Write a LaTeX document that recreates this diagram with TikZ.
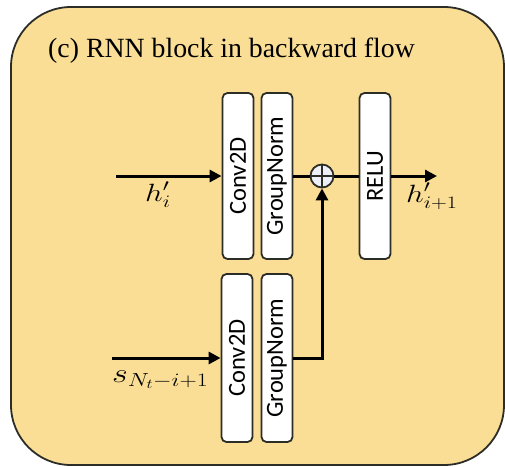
\RequirePackage{fix-cm}
\documentclass[tikz,border=0pt]{standalone}
\usepackage{fontspec}
\setmainfont{Liberation Serif}
\newfontfamily\boxfont{Carlito}
\usetikzlibrary{arrows.meta}
\definecolor{bgyellow}{RGB}{250,222,150}
\definecolor{edgegray}{RGB}{45,45,40}
\definecolor{sumfill}{RGB}{238,240,248}
\begin{document}
\begin{tikzpicture}[x=1pt,y=-1pt,
  blockbox/.style={draw=edgegray, line width=1.8pt, fill=white, rounded corners=5pt,
    rotate=90, minimum height=31pt, inner sep=0pt,
    font=\boxfont\fontsize{24.5}{26}\selectfont},
  flowline/.style={line width=3pt, draw=black},
  flowarrow/.style={flowline, -{Triangle[length=12pt,width=12pt]}},
  mathlabel/.style={anchor=base west, inner sep=0pt, font=\fontsize{25}{28}\selectfont},
]
\useasboundingbox (0,0) rectangle (505,466);
\begin{scope}
  \clip (0,0) rectangle (505,466);
  \draw[fill=bgyellow, draw=edgegray, line width=1.8pt, rounded corners=60pt] (11,7) rectangle (504,465);
\end{scope}
\node[anchor=base west, inner sep=0pt, font=\fontsize{27.8}{30}\selectfont] (title) at (48,57) {(c) RNN block in backward flow};

\node[blockbox, minimum width=166pt] (conva) at (238,176) {Conv2D};
\node[blockbox, minimum width=166pt] (gna) at (277,176) {GroupNorm};
\node[blockbox, minimum width=166pt] (relu) at (375,176) {RELU};
\node[blockbox, minimum width=168pt] (convb) at (237,358) {Conv2D};
\node[blockbox, minimum width=168pt] (gnb) at (277,358) {GroupNorm};

\node[circle, draw=edgegray, line width=1.8pt, fill=sumfill, minimum size=23pt, inner sep=0pt] (sum) at (322,176) {};
\draw[edgegray, line width=1.1pt] (sum.north) -- (sum.south) (sum.west) -- (sum.east);

\coordinate (hin) at (116,176);
\coordinate (hout) at (437,176);
\coordinate (sin) at (112,358);

\draw[flowarrow] (hin) -- (conva);
\draw[flowline] (gna) -- (sum);
\draw[flowline] (sum) -- (relu);
\draw[flowarrow] (relu) -- (hout);
\draw[flowarrow] (sin) -- (convb);
\draw[flowarrow] (gnb) -| (sum);

\node[mathlabel] (hlab) at (145,201) {\scalebox{1.25}[1]{$h'_i$}};
\node[mathlabel] (houtlab) at (406,202) {\scalebox{1.25}[1]{$h'_{i+1}$}};
\node[mathlabel, font=\fontsize{27}{30}\selectfont] (slab) at (112,382) {\scalebox{1.26}[1]{$s_{N_t-i+1}$}};
\end{tikzpicture}
\end{document}
